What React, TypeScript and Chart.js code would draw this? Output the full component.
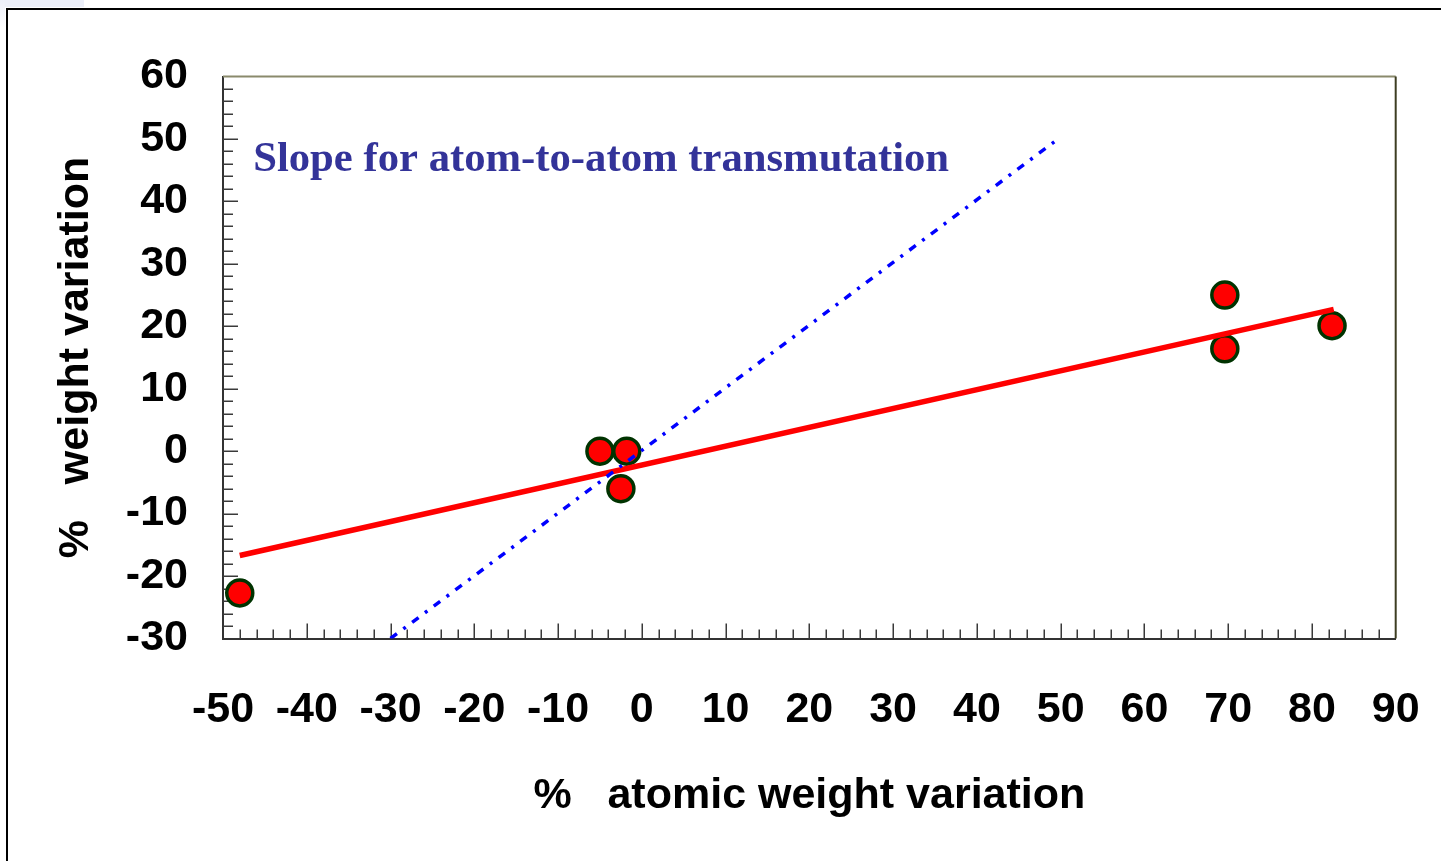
import React, { useEffect, useRef } from "react";
import { Chart, registerables } from "chart.js";

Chart.register(...registerables);

// ---- axis ranges / ticks ----
const X_MIN = -50;
const X_MAX = 90;
const X_STEP = 10;
const X_MINOR = 2;
const Y_MIN = -30;
const Y_MAX = 60;
const Y_STEP = 10;
const Y_MINOR = 2;

// ---- measured points ----
const pointX = [-48, -5, -1.8, -2.5, 69.6, 69.6, 82.4];
const pointY = [-22.7, 0, 0, -6, 25, 16.4, 20.1];

// ---- fitted regression line ----
const fitX = [-48, 82.6];
const fitY = [-16.7, 22.7];

// ---- atom-to-atom slope reference line ----
const slopeX = [-30, 49.3];
const slopeY = [-30, 49.6];

// ---- texts ----
const annotationText = "Slope for atom-to-atom transmutation";
const annotationAt = { x: -46.4, y: 44.9 };
const xTitle = "%   atomic weight variation";
const yTitle = "%   weight variation";

const toXY = (xs: number[], ys: number[]) => xs.map((x, i) => ({ x, y: ys[i] }));

const decorPlugin = {
  id: "decor",
  beforeDatasetsDraw(chart: any) {
    const { ctx, chartArea: a, scales } = chart;
    const xs = scales.x;
    const ys = scales.y;
    ctx.save();
    ctx.lineWidth = 1.5;
    ctx.strokeStyle = "#3a3a3a";
    for (let v = X_MIN + X_MINOR; v < X_MAX - 1e-6; v += X_MINOR) {
      const px = Math.round(xs.getPixelForValue(v)) + 0.25;
      const major = Math.abs(v % X_STEP) < 1e-6;
      const len = major ? 15 : 9;
      ctx.beginPath();
      ctx.moveTo(px, a.bottom);
      ctx.lineTo(px, a.bottom - len);
      ctx.stroke();
    }
    for (let v = Y_MIN + Y_MINOR; v < Y_MAX - 1e-6; v += Y_MINOR) {
      const py = Math.round(ys.getPixelForValue(v)) + 0.25;
      const major = Math.abs(v % Y_STEP) < 1e-6;
      const len = major ? 15 : 10;
      ctx.beginPath();
      ctx.moveTo(a.left, py);
      ctx.lineTo(a.left + len, py);
      ctx.stroke();
    }
    ctx.lineWidth = 2;
    ctx.strokeStyle = "#8a8a6c";
    ctx.beginPath();
    ctx.moveTo(a.left, a.top);
    ctx.lineTo(a.right, a.top);
    ctx.stroke();
    ctx.strokeStyle = "#3d3d22";
    ctx.beginPath();
    ctx.moveTo(a.right, a.top);
    ctx.lineTo(a.right, a.bottom);
    ctx.stroke();
    ctx.restore();
  },
  afterDraw(chart: any) {
    const { ctx, scales } = chart;
    ctx.save();
    ctx.font = 'bold 42.7px "Liberation Serif", "Times New Roman", serif';
    ctx.fillStyle = "#333399";
    ctx.textAlign = "left";
    ctx.textBaseline = "alphabetic";
    ctx.fillText(
      annotationText,
      scales.x.getPixelForValue(annotationAt.x),
      scales.y.getPixelForValue(annotationAt.y)
    );
    ctx.restore();
  },
};

const FONT_FAMILY = '"Liberation Sans", Arial, sans-serif';

export default function App() {
  const ref = useRef<HTMLCanvasElement | null>(null);

  useEffect(() => {
    if (!ref.current) return;
    const chart = new Chart(ref.current, {
      type: "scatter",
      data: {
        datasets: [
          {
            label: "slope",
            data: toXY(slopeX, slopeY),
            showLine: true,
            borderColor: "#0000ff",
            borderWidth: 3.5,
            borderDash: [8, 8, 3, 8],
            pointRadius: 0,
            fill: false,
          },
          {
            label: "fit",
            data: toXY(fitX, fitY),
            showLine: true,
            borderColor: "#ff0000",
            borderWidth: 5.5,
            pointRadius: 0,
            fill: false,
          },
          {
            label: "points",
            data: toXY(pointX, pointY),
            showLine: false,
            pointRadius: 13,
            pointBorderWidth: 3.5,
            pointBackgroundColor: "#ff0000",
            pointBorderColor: "#003300",
          },
        ],
      },
      options: {
        animation: false,
        responsive: false,
        events: [],
        layout: { padding: { left: 0, right: 45.3, top: 76.5, bottom: 0 } },
        plugins: {
          legend: { display: false },
          tooltip: { enabled: false },
        },
        scales: {
          x: {
            type: "linear",
            min: X_MIN,
            max: X_MAX,
            grid: { display: false, drawTicks: false },
            border: { display: true, color: "#333333", width: 2 },
            ticks: {
              stepSize: X_STEP,
              autoSkip: false,
              maxRotation: 0,
              padding: 46,
              color: "#000",
              font: { family: FONT_FAMILY, size: 43, weight: "bold" },
            },
            title: {
              display: true,
              text: xTitle,
              color: "#000",
              font: { family: FONT_FAMILY, size: 43, weight: "bold" },
              padding: { top: 0, bottom: 39 },
            },
            afterFit: (s: any) => {
              s.height = 222.5;
              s.paddingLeft = 0;
              s.paddingRight = 0;
            },
          },
          y: {
            type: "linear",
            min: Y_MIN,
            max: Y_MAX,
            grid: { display: false, drawTicks: false },
            border: { display: true, color: "#333333", width: 2 },
            ticks: {
              stepSize: Y_STEP,
              autoSkip: false,
              padding: 35,
              color: "#000",
              font: { family: FONT_FAMILY, size: 43, weight: "bold" },
            },
            title: {
              display: true,
              text: yTitle,
              color: "#000",
              font: { family: FONT_FAMILY, size: 43, weight: "bold" },
              padding: { top: 50, bottom: 0 },
            },
            afterFit: (s: any) => {
              s.width = 223;
              s.paddingTop = 0;
              s.paddingBottom = 0;
            },
          },
        },
      },
      plugins: [decorPlugin],
    } as any);
    return () => chart.destroy();
  }, []);

  return (
    <div
      style={{
        position: "absolute",
        left: 0,
        top: 0,
        width: 1441,
        height: 861,
        overflow: "hidden",
        background: "#ffffff",
      }}
    >
      <div
        style={{
          position: "absolute",
          left: 0,
          top: 0,
          width: 84,
          height: 7,
          background: "#eceff9",
        }}
      />
      <div
        style={{
          position: "absolute",
          left: 0,
          top: 0,
          width: 5,
          height: 28,
          background: "linear-gradient(#eceff9, #ffffff)",
        }}
      />
      <div
        style={{
          position: "absolute",
          left: 6,
          top: 7.5,
          width: 1460,
          height: 880,
          borderLeft: "2px solid #000",
          borderTop: "2px solid #000",
          boxSizing: "border-box",
        }}
      />
      <canvas
        ref={ref}
        width={1441}
        height={861}
        style={{ position: "absolute", left: 0, top: 0, width: 1441, height: 861 }}
      />
    </div>
  );
}
